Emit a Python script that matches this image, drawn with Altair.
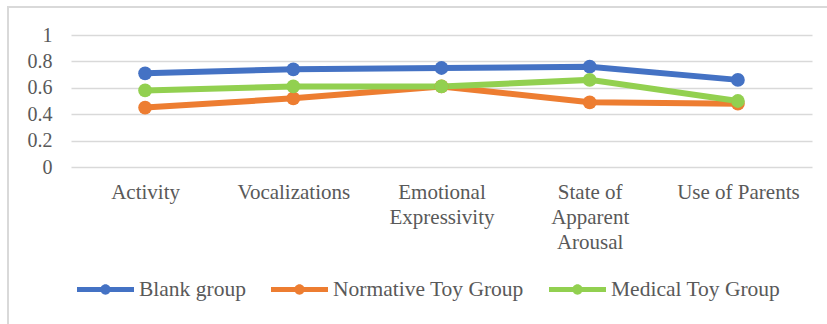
import altair as alt
import pandas as pd

# Category labels (line breaks mark wrapped axis labels)
categories = [
    "Activity",
    "Vocalizations",
    "Emotional\nExpressivity",
    "State of\nApparent\nArousal",
    "Use of Parents",
]
groups = ["Blank group", "Normative Toy Group", "Medical Toy Group"]
blank_group = [0.71, 0.74, 0.75, 0.76, 0.66]
normative_toy = [0.45, 0.52, 0.61, 0.49, 0.48]
medical_toy = [0.58, 0.61, 0.61, 0.66, 0.50]
group_colors = ["#4472C4", "#ED7D31", "#92D050"]
y_ticks = [0, 0.2, 0.4, 0.6, 0.8, 1]

rows = []
for grp, vals in zip(groups, [blank_group, normative_toy, medical_toy]):
    for i, (cat, v) in enumerate(zip(categories, vals)):
        rows.append({"category": cat, "group": grp, "value": v, "order": i})
df = pd.DataFrame(rows)

FONT = "Liberation Serif"
TEXT = "#595959"
W, H = 741, 132

x_enc = alt.X(
    "category:N",
    sort=categories,
    scale=alt.Scale(type="point", padding=0.5),
    axis=alt.Axis(
        title=None,
        labelAngle=0,
        labelFont=FONT,
        labelFontSize=21,
        labelColor=TEXT,
        labelPadding=14,
        labelLineHeight=25,
        labelExpr="split(datum.label, '\\n')",
        labelOverlap=False,
        labelLimit=0,
        domain=False,
        ticks=False,
        grid=False,
    ),
)
y_enc = alt.Y(
    "value:Q",
    scale=alt.Scale(domain=[0, 1], nice=False),
    axis=alt.Axis(
        title=None,
        values=y_ticks,
        format=".1~f",
        labelFont=FONT,
        labelFontSize=20,
        labelColor=TEXT,
        labelPadding=19,
        domain=False,
        ticks=False,
        grid=True,
        gridColor="#D9D9D9",
        gridWidth=1.3,
    ),
)
color_scale = alt.Scale(domain=groups, range=group_colors)

# Legend symbol: a thick bar with a dot in the middle
symbol_path = (
    "M-1,-0.09L1,-0.09L1,0.09L-1,0.09Z "
    "M0.18,0A0.18,0.18 0 1,1 -0.18,0A0.18,0.18 0 1,1 0.18,0Z"
)
legend = alt.Legend(
    title=None,
    orient="none",
    legendX=6,
    legendY=226,
    direction="horizontal",
    symbolType=symbol_path,
    symbolSize=3249,
    symbolStrokeWidth=0,
    labelFont=FONT,
    labelFontSize=21.5,
    labelColor=TEXT,
    labelLimit=400,
    labelOffset=5,
    columnPadding=25,
)
color_enc = alt.Color("group:N", scale=color_scale, sort=groups, legend=legend)

lines = alt.Chart(df).mark_line(strokeWidth=6).encode(
    x=x_enc,
    y=y_enc,
    color=color_enc,
    order="order:Q",
)

dots = alt.Chart(df).mark_circle(size=190, opacity=1).encode(
    x=x_enc,
    y=y_enc,
    color=color_enc,
)

# Light chart-area frame
frame = alt.Chart(df).mark_rect(
    fill=None, stroke="#D9D9D9", strokeWidth=1.3
).encode(
    x=alt.value(-63), x2=alt.value(W + 40),
    y=alt.value(-28), y2=alt.value(H + 200),
)

chart = (
    alt.layer(frame, lines, dots)
    .properties(
        width=W,
        height=H,
        padding={"left": 71, "top": 35, "right": 15, "bottom": 157},
        autosize=alt.AutoSizeParams(type="none"),
        background="white",
    )
    .configure_view(stroke=None)
)

chart.save("out.html", embed_options={"renderer": "svg", "actions": False})
